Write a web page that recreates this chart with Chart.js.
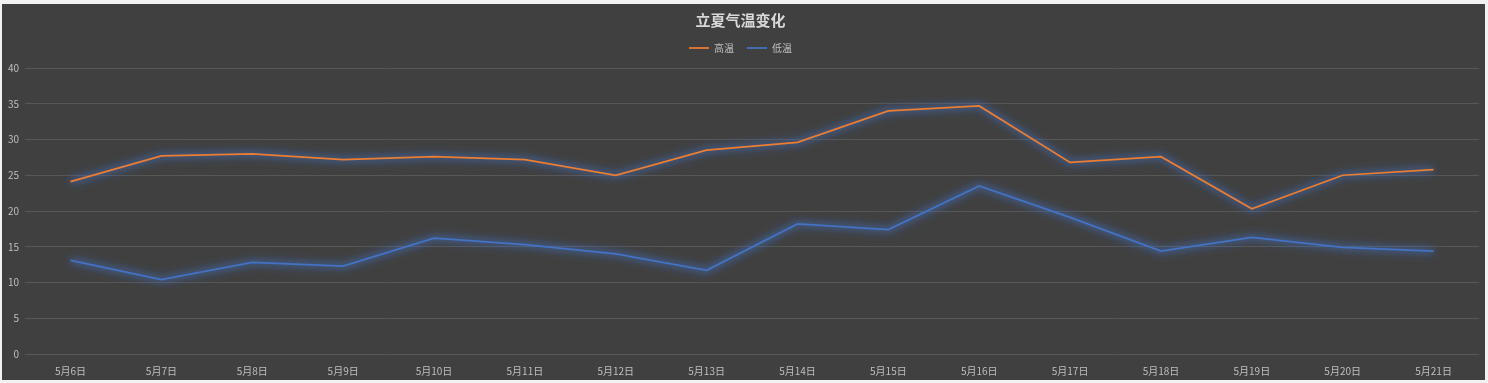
<!DOCTYPE html>
<html>
<head>
<meta charset="utf-8">
<script src="https://cdn.jsdelivr.net/npm/chart.js@4/dist/chart.umd.min.js"></script>
<style>
  html, body { margin: 0; padding: 0; background: #f2f2f2; }
  #frame {
    position: absolute; left: 2px; top: 4px;
    width: 1483px; height: 376px;
    background: #404040;
  }
</style>
</head>
<body>
<div id="frame"><canvas id="chart" width="1483" height="376"></canvas></div>
<script>
// 立夏气温变化 data
const days = ['5月6日', '5月7日', '5月8日', '5月9日', '5月10日', '5月11日', '5月12日', '5月13日',
  '5月14日', '5月15日', '5月16日', '5月17日', '5月18日', '5月19日', '5月20日', '5月21日'];
const highTemps = [24.1, 27.7, 28.0, 27.2, 27.6, 27.2, 25.0, 28.5, 29.6, 34.0, 34.7, 26.8, 27.6, 20.3, 25.0, 25.8];
const lowTemps = [13.1, 10.4, 12.8, 12.3, 16.2, 15.3, 14.0, 11.7, 18.2, 17.4, 23.5, 19.1, 14.4, 16.3, 14.9, 14.4];

const textColor = '#bfbfbf';
const font = '"Noto Sans CJK SC", "Noto Sans", sans-serif';

// soft blue glow under each line, like the office chart style
const glowPlugin = {
  id: 'glow',
  beforeDatasetDraw(chart, args) {
    const ctx = chart.ctx;
    const pts = args.meta.data;
    // wide blurred halo along the line's own points
    ctx.save();
    ctx.filter = 'blur(4px)';
    ctx.strokeStyle = 'rgba(68,114,196,0.35)';
    ctx.lineWidth = 8;
    ctx.lineJoin = 'round';
    ctx.beginPath();
    pts.forEach((p, i) => i ? ctx.lineTo(p.x, p.y) : ctx.moveTo(p.x, p.y));
    ctx.stroke();
    ctx.restore();

    ctx.save();
    ctx.shadowColor = 'rgba(68,114,196,0.8)';
    ctx.shadowBlur = 6;
  },
  afterDatasetDraw(chart) {
    chart.ctx.restore();
  }
};

// a bit more room under the legend
const legendGap = {
  id: 'legendGap',
  beforeInit(chart) {
    const fit = chart.legend.fit;
    chart.legend.fit = function() {
      fit.call(this);
      this.height += 5;
    };
  }
};

new Chart(document.getElementById('chart'), {
  type: 'line',
  data: {
    labels: days,
    datasets: [
      { label: '高温', data: highTemps, borderColor: '#ed7d31', backgroundColor: '#ed7d31',
        borderWidth: 1.75, pointRadius: 0, tension: 0 },
      { label: '低温', data: lowTemps, borderColor: '#4472c4', backgroundColor: '#4472c4',
        borderWidth: 1.75, pointRadius: 0, tension: 0 }
    ]
  },
  options: {
    responsive: false,
    animation: false,
    layout: { padding: { left: 0, right: 6, top: 0, bottom: 0 } },
    plugins: {
      title: {
        display: true,
        text: '立夏气温变化',
        color: '#d9d9d9',
        font: { family: font, size: 15, weight: 'bold' },
        padding: { top: 7, bottom: 1 }
      },
      legend: {
        labels: {
          color: textColor,
          font: { family: font, size: 10 },
          usePointStyle: true,
          pointStyle: 'line',
          pointStyleWidth: 20,
          boxHeight: 8,
          padding: 13
        }
      },
      tooltip: { enabled: false }
    },
    scales: {
      x: {
        offset: true,
        grid: { display: false },
        border: { display: false },
        ticks: { color: textColor, font: { family: font, size: 10 }, maxRotation: 0, padding: 3 }
      },
      y: {
        min: 0, max: 40,
        ticks: { stepSize: 5, color: textColor, font: { family: font, size: 10 }, padding: 6 },
        grid: { color: '#575757', lineWidth: 1, drawTicks: false },
        border: { display: false }
      }
    }
  },
  plugins: [glowPlugin, legendGap]
});
</script>
</body>
</html>
